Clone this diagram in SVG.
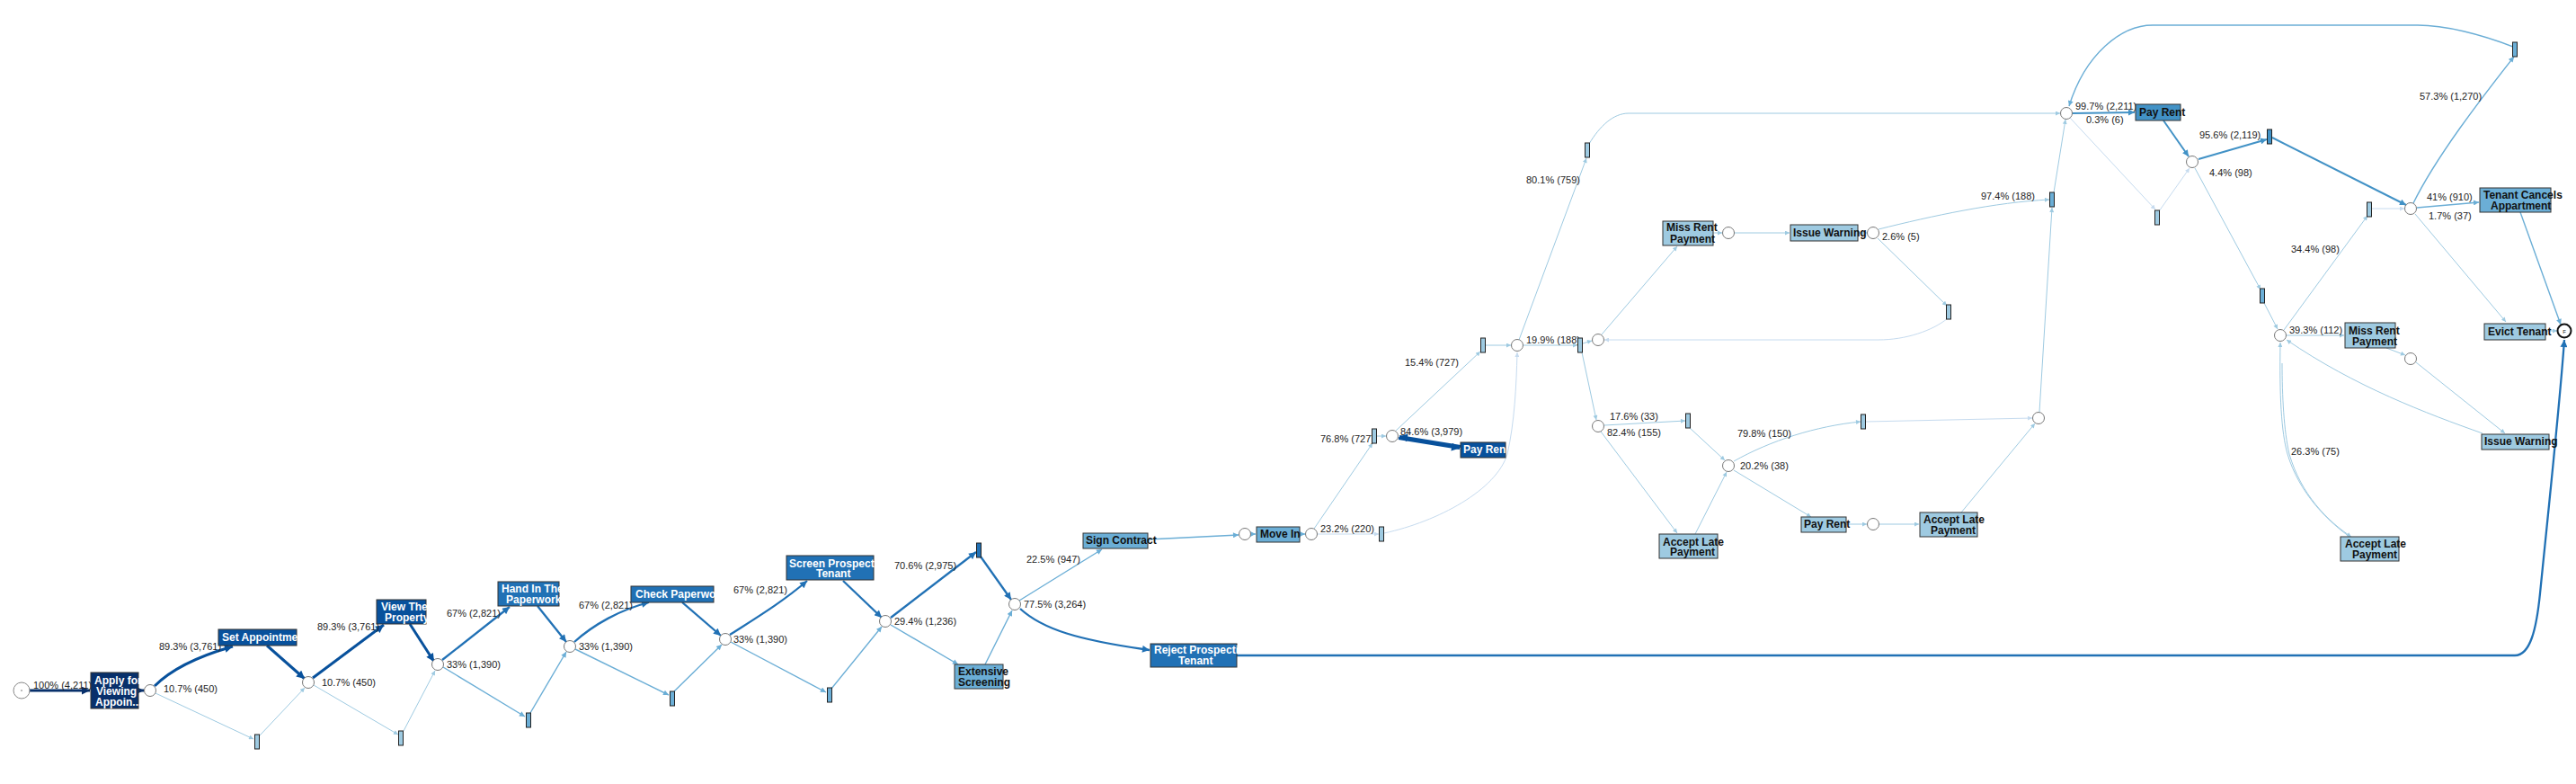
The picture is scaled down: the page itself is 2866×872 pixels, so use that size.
<svg xmlns="http://www.w3.org/2000/svg" width="2866" height="872" viewBox="0 0 2866 872">
<style>
.lbl{font-family:"Liberation Sans",Arial,sans-serif;font-size:11px;fill:#222}
.nt{font-family:"Liberation Sans",Arial,sans-serif;font-size:12px;font-weight:bold}
.w{fill:#fff}.k{fill:#111}
.gw{fill:#fff;stroke:#777;stroke-width:1}
.sr{stroke:#222;stroke-width:1}
.box{stroke:#333;stroke-width:1}
path{fill:none}
.e0{stroke:#08306b;stroke-width:3;marker-end:url(#a0)}
.e1{stroke:#08519c;stroke-width:3;marker-end:url(#a1)}
.e2{stroke:#2171b5;stroke-width:2.3;marker-end:url(#a2)}
.e3{stroke:#4292c6;stroke-width:2;marker-end:url(#a3)}
.e4{stroke:#6baed6;stroke-width:1.4;marker-end:url(#a4)}
.e5{stroke:#9ecae1;stroke-width:1;marker-end:url(#a5)}
.e6{stroke:#c6dbef;stroke-width:1;marker-end:url(#a6)}
</style>
<defs>
<marker id="a0" viewBox="0 0 10 10" refX="10" refY="5" markerUnits="userSpaceOnUse" markerWidth="10" markerHeight="9" orient="auto"><path d="M0,0L10,5L0,10z" style="fill:#08306b"/></marker>
<marker id="a1" viewBox="0 0 10 10" refX="10" refY="5" markerUnits="userSpaceOnUse" markerWidth="10" markerHeight="9" orient="auto"><path d="M0,0L10,5L0,10z" style="fill:#08519c"/></marker>
<marker id="a2" viewBox="0 0 10 10" refX="10" refY="5" markerUnits="userSpaceOnUse" markerWidth="9" markerHeight="8" orient="auto"><path d="M0,0L10,5L0,10z" style="fill:#2171b5"/></marker>
<marker id="a3" viewBox="0 0 10 10" refX="10" refY="5" markerUnits="userSpaceOnUse" markerWidth="8" markerHeight="7" orient="auto"><path d="M0,0L10,5L0,10z" style="fill:#4292c6"/></marker>
<marker id="a4" viewBox="0 0 10 10" refX="10" refY="5" markerUnits="userSpaceOnUse" markerWidth="7" markerHeight="6" orient="auto"><path d="M0,0L10,5L0,10z" style="fill:#6baed6"/></marker>
<marker id="a5" viewBox="0 0 10 10" refX="10" refY="5" markerUnits="userSpaceOnUse" markerWidth="6" markerHeight="5" orient="auto"><path d="M0,0L10,5L0,10z" style="fill:#9ecae1"/></marker>
<marker id="a6" viewBox="0 0 10 10" refX="10" refY="5" markerUnits="userSpaceOnUse" markerWidth="6" markerHeight="5" orient="auto"><path d="M0,0L10,5L0,10z" style="fill:#c6dbef"/></marker>
</defs>
<rect width="2866" height="872" fill="#fff"/>
<g id="connectors">
<path class="e0" d="M33 768L100 768"/>
<path class="e0" d="M154 768L160 768"/>
<path class="e1" d="M172 763C190 745,220 730,259 719"/>
<path class="e1" d="M297 718L339 755"/>
<path class="e5" d="M173 771L282 822"/>
<path class="e5" d="M289 818L339 765"/>
<path class="e1" d="M348 754L427 695"/>
<path class="e1" d="M456 694L483 736"/>
<path class="e5" d="M349 762L443 817"/>
<path class="e5" d="M449 813L484 746"/>
<path class="e2" d="M492 734L567 675"/>
<path class="e2" d="M598 674L630 714"/>
<path class="e4" d="M493 742L584 797"/>
<path class="e4" d="M590 793L630 725"/>
<path class="e2" d="M639 714C660 695,690 678,722 670"/>
<path class="e2" d="M759 670L802 707"/>
<path class="e4" d="M640 722L744 773"/>
<path class="e4" d="M750 769L803 717"/>
<path class="e2" d="M812 706C840 688,870 670,898 646"/>
<path class="e2" d="M938 646L981 687"/>
<path class="e4" d="M813 714L919 770"/>
<path class="e4" d="M925 766L981 697"/>
<path class="e2" d="M991 687L1086 614"/>
<path class="e2" d="M1091 619L1125 667"/>
<path class="e4" d="M991 695L1066 739"/>
<path class="e4" d="M1096 739L1126 679"/>
<path class="e4" d="M1134 668L1226 611"/>
<path class="e2" d="M1135 677C1160 700,1200 712,1279 723"/>
<path class="e2" d="M1376 729L2798 729C2815 729,2822 700,2826 660C2836 560,2848 450,2853 378"/>
<path class="e4" d="M1277 600L1378 595"/>
<path class="e4" d="M1391 594L1397 594"/>
<path class="e4" d="M1446 594L1452 594"/>
<path class="e6" d="M1466 594L1534 594"/>
<path class="e5" d="M1462 588L1527 493"/>
<path class="e5" d="M1532 485L1542 485"/>
<path class="e1" d="M1556 487.5L1624 498.5"/>
<path class="e1" d="M1625 496.5L1557 485.5"/>
<path class="e5" d="M1553 479L1647 391"/>
<path class="e6" d="M1540 593C1600 580,1665 545,1677 505C1685 470,1687 430,1688 392"/>
<path class="e5" d="M1653 384L1681 384"/>
<path class="e5" d="M1695 384L1755 384"/>
<path class="e5" d="M1761 382L1771 379"/>
<path class="e5" d="M1690 378L1765 176"/>
<path class="e5" d="M1768 160C1780 140,1795 126,1812 126L2292 126"/>
<path class="e5" d="M1760 392L1776 467"/>
<path class="e5" d="M1782 372L1866 274"/>
<path class="e5" d="M1906 259L1916 259"/>
<path class="e5" d="M1930 259L1991 259"/>
<path class="e5" d="M2067 259L2077 259"/>
<path class="e5" d="M2090 255C2150 240,2220 225,2280 222"/>
<path class="e5" d="M2089 265L2166 340"/>
<path class="e6" d="M2167 354C2150 368,2120 378,2090 378L1785 378"/>
<path class="e5" d="M1785 473L1875 468"/>
<path class="e5" d="M1781 480L1866 593"/>
<path class="e5" d="M1880 476L1919 512"/>
<path class="e5" d="M1886 594L1921 525"/>
<path class="e5" d="M1929 513C1970 490,2020 474,2070 469"/>
<path class="e5" d="M1929 523L2015 575"/>
<path class="e5" d="M2054 583L2077 583"/>
<path class="e5" d="M2091 583L2135 583"/>
<path class="e5" d="M2182 570L2264 471"/>
<path class="e6" d="M2076 469L2261 465"/>
<path class="e5" d="M2269 458L2283 231"/>
<path class="e5" d="M2285 214L2298 133"/>
<path class="e3" d="M2306 126L2375 125"/>
<path class="e6" d="M2303 131L2398 233"/>
<path class="e6" d="M2402 235L2436 187"/>
<path class="e3" d="M2407 134L2435 174"/>
<path class="e3" d="M2446 177L2522 155"/>
<path class="e3" d="M2528 153L2677 228"/>
<path class="e5" d="M2442 187L2515 322"/>
<path class="e5" d="M2519 337L2534 366"/>
<path class="e5" d="M2544 373L2608 373"/>
<path class="e5" d="M2541 367L2634 240"/>
<path class="e6" d="M2639 232L2675 232"/>
<path class="e4" d="M2689 231L2758 225"/>
<path class="e5" d="M2687 238L2788 358"/>
<path class="e4" d="M2685 226C2710 175,2760 110,2797 63"/>
<path class="e4" d="M2796 52C2760 38,2720 28,2690 28L2395 28C2360 28,2320 60,2302 118"/>
<path class="e5" d="M2655 387L2676 395"/>
<path class="e5" d="M2688 403L2787 482"/>
<path class="e5" d="M2762 482C2700 460,2620 430,2544 378"/>
<path class="e5" d="M2539 404C2539 440,2541 480,2547 505C2560 550,2590 580,2616 597"/>
<path class="e5" d="M2614 597C2588 578,2558 548,2545 505C2538 480,2536 440,2537 381"/>
<path class="e4" d="M2804 236L2849 361"/>
<path class="e5" d="M2832 368L2845 368"/>
<text class="lbl" x="37" y="766">100% (4,211)</text>
<text class="lbl" x="177" y="723">89.3% (3,761)</text>
<text class="lbl" x="182" y="770">10.7% (450)</text>
<text class="lbl" x="353" y="701">89.3% (3,761)</text>
<text class="lbl" x="358" y="763">10.7% (450)</text>
<text class="lbl" x="497" y="686">67% (2,821)</text>
<text class="lbl" x="497" y="743">33% (1,390)</text>
<text class="lbl" x="644" y="677">67% (2,821)</text>
<text class="lbl" x="644" y="723">33% (1,390)</text>
<text class="lbl" x="816" y="660">67% (2,821)</text>
<text class="lbl" x="816" y="715">33% (1,390)</text>
<text class="lbl" x="995" y="633">70.6% (2,975)</text>
<text class="lbl" x="995" y="695">29.4% (1,236)</text>
<text class="lbl" x="1139" y="676">77.5% (3,264)</text>
<text class="lbl" x="1142" y="626">22.5% (947)</text>
<text class="lbl" x="1469" y="592">23.2% (220)</text>
<text class="lbl" x="1469" y="492">76.8% (727)</text>
<text class="lbl" x="1558" y="484">84.6% (3,979)</text>
<text class="lbl" x="1563" y="407">15.4% (727)</text>
<text class="lbl" x="1698" y="204">80.1% (759)</text>
<text class="lbl" x="1698" y="382">19.9% (188)</text>
<text class="lbl" x="2094" y="267">2.6% (5)</text>
<text class="lbl" x="2204" y="222">97.4% (188)</text>
<text class="lbl" x="1791" y="467">17.6% (33)</text>
<text class="lbl" x="1788" y="485">82.4% (155)</text>
<text class="lbl" x="1933" y="486">79.8% (150)</text>
<text class="lbl" x="1936" y="522">20.2% (38)</text>
<text class="lbl" x="2309" y="122">99.7% (2,211)</text>
<text class="lbl" x="2321" y="137">0.3% (6)</text>
<text class="lbl" x="2447" y="154">95.6% (2,119)</text>
<text class="lbl" x="2458" y="196">4.4% (98)</text>
<text class="lbl" x="2692" y="111">57.3% (1,270)</text>
<text class="lbl" x="2700" y="223">41% (910)</text>
<text class="lbl" x="2702" y="244">1.7% (37)</text>
<text class="lbl" x="2549" y="281">34.4% (98)</text>
<text class="lbl" x="2547" y="371">39.3% (112)</text>
<text class="lbl" x="2549" y="506">26.3% (75)</text>
</g>
<g id="start"><circle cx="24" cy="768" r="9" fill="#fff" stroke="#888"/><circle cx="24" cy="768" r="0.8" fill="#666"/></g>
<g id="end"><circle cx="2853" cy="368" r="7.5" fill="#fff" stroke="#111" stroke-width="2"/><text x="2853" y="370.5" text-anchor="middle" style="font-family:'Liberation Sans',Arial,sans-serif;font-size:6px;fill:#111">F</text></g>
<g id="gateways">
<circle id="g1" class="gw" cx="167" cy="768" r="6.5"/>
<circle id="g2" class="gw" cx="343" cy="759" r="6.5"/>
<circle id="g3" class="gw" cx="487" cy="739" r="6.5"/>
<circle id="g4" class="gw" cx="634" cy="719" r="6.5"/>
<circle id="g5" class="gw" cx="807" cy="711" r="6.5"/>
<circle id="g6" class="gw" cx="985" cy="691" r="6.5"/>
<circle id="g7" class="gw" cx="1129" cy="672" r="6.5"/>
<circle id="g8" class="gw" cx="1385" cy="594" r="6.5"/>
<circle id="g9" class="gw" cx="1459" cy="594" r="6.5"/>
<circle id="g10" class="gw" cx="1549" cy="485" r="6.5"/>
<circle id="gA" class="gw" cx="1688" cy="384" r="6.5"/>
<circle id="gB" class="gw" cx="1778" cy="378" r="6.5"/>
<circle id="gC" class="gw" cx="1923" cy="259" r="6.5"/>
<circle id="gD" class="gw" cx="2084" cy="259" r="6.5"/>
<circle id="gE" class="gw" cx="2268" cy="465" r="6.5"/>
<circle id="gF" class="gw" cx="1778" cy="474" r="6.5"/>
<circle id="gG" class="gw" cx="1923" cy="518" r="6.5"/>
<circle id="gH" class="gw" cx="2084" cy="583" r="6.5"/>
<circle id="gX" class="gw" cx="2299" cy="126" r="6.5"/>
<circle id="gY" class="gw" cx="2439" cy="180" r="6.5"/>
<circle id="gZ" class="gw" cx="2537" cy="373" r="6.5"/>
<circle id="gW" class="gw" cx="2682" cy="399" r="6.5"/>
<circle id="gV" class="gw" cx="2682" cy="232" r="6.5"/>
</g>
<g id="skips">
<rect id="s1" class="sr" x="283.5" y="817" width="5" height="16" fill="#9ecae1"/>
<rect id="s2" class="sr" x="443.5" y="813" width="5" height="16" fill="#9ecae1"/>
<rect id="s3" class="sr" x="585.5" y="793" width="5" height="16" fill="#6baed6"/>
<rect id="s4" class="sr" x="745.5" y="769" width="5" height="16" fill="#6baed6"/>
<rect id="s5" class="sr" x="920.5" y="765" width="5" height="16" fill="#6baed6"/>
<rect id="s7" class="sr" x="1086.5" y="604" width="5" height="16" fill="#2171b5"/>
<rect id="s9" class="sr" x="1534.5" y="586" width="5" height="16" fill="#9ecae1"/>
<rect id="s10" class="sr" x="1526.5" y="477" width="5" height="16" fill="#9ecae1"/>
<rect id="sA" class="sr" x="1647.5" y="376" width="5" height="16" fill="#9ecae1"/>
<rect id="sB" class="sr" x="1755.5" y="376" width="5" height="16" fill="#9ecae1"/>
<rect id="sTop" class="sr" x="1763.5" y="159" width="5" height="16" fill="#9ecae1"/>
<rect id="sC" class="sr" x="2165.5" y="339" width="5" height="16" fill="#9ecae1"/>
<rect id="sD" class="sr" x="2280.5" y="214" width="5" height="16" fill="#6baed6"/>
<rect id="sE" class="sr" x="1875.5" y="460" width="5" height="16" fill="#9ecae1"/>
<rect id="sF" class="sr" x="2070.5" y="461" width="5" height="16" fill="#9ecae1"/>
<rect id="sG" class="sr" x="2397.5" y="234" width="5" height="16" fill="#9ecae1"/>
<rect id="sH" class="sr" x="2522.5" y="144" width="5" height="16" fill="#4292c6"/>
<rect id="sI" class="sr" x="2514.5" y="321" width="5" height="16" fill="#6baed6"/>
<rect id="sJ" class="sr" x="2633.5" y="225" width="5" height="16" fill="#9ecae1"/>
<rect id="sTR" class="sr" x="2795.5" y="47" width="5" height="16" fill="#6baed6"/>
</g>
<g id="apply"><rect class="box" x="101" y="748" width="53" height="40" fill="#08306b"/><text class="nt w" x="105" y="761">Apply for</text><text class="nt w" x="107" y="773">Viewing</text><text class="nt w" x="106" y="785">Appoin...</text></g>
<g id="setappt"><rect class="box" x="243" y="700" width="87" height="18" fill="#08519c"/><text class="nt w" x="247" y="713">Set Appointme</text></g>
<g id="view"><rect class="box" x="419" y="667" width="55" height="27" fill="#08519c"/><text class="nt w" x="424" y="679">View The</text><text class="nt w" x="428" y="691">Property</text></g>
<g id="handin"><rect class="box" x="554" y="647" width="68" height="27" fill="#2171b5"/><text class="nt w" x="558" y="659">Hand In The</text><text class="nt w" x="563" y="671">Paperwork</text></g>
<g id="check"><rect class="box" x="702" y="652" width="92" height="18" fill="#2171b5"/><text class="nt w" x="707" y="665">Check Paperwo</text></g>
<g id="screen"><rect class="box" x="875" y="618" width="97" height="27" fill="#2171b5"/><text class="nt w" x="878" y="631">Screen Prospect</text><text class="nt w" x="908" y="642">Tenant</text></g>
<g id="extensive"><rect class="box" x="1062" y="739" width="54" height="27" fill="#6baed6"/><text class="nt k" x="1066" y="751">Extensive</text><text class="nt k" x="1066" y="763">Screening</text></g>
<g id="sign"><rect class="box" x="1205" y="593" width="72" height="17" fill="#6baed6"/><text class="nt k" x="1208" y="605">Sign Contract</text></g>
<g id="reject"><rect class="box" x="1280" y="716" width="96" height="26" fill="#2171b5"/><text class="nt w" x="1284" y="727">Reject Prospecti</text><text class="nt w" x="1311" y="739">Tenant</text></g>
<g id="movein"><rect class="box" x="1398" y="586" width="48" height="17" fill="#6baed6"/><text class="nt k" x="1402" y="598">Move In</text></g>
<g id="payrent1"><rect class="box" x="1625" y="492" width="50" height="17" fill="#08519c"/><text class="nt w" x="1628" y="504">Pay Ren</text></g>
<g id="missrent1"><rect class="box" x="1850" y="246" width="56" height="27" fill="#9ecae1"/><text class="nt k" x="1854" y="257">Miss Rent</text><text class="nt k" x="1858" y="270">Payment</text></g>
<g id="issuewarning1"><rect class="box" x="1992" y="250" width="75" height="18" fill="#9ecae1"/><text class="nt k" x="1995" y="263">Issue Warning</text></g>
<g id="acceptlate1"><rect class="box" x="1846" y="594" width="65" height="27" fill="#9ecae1"/><text class="nt k" x="1850" y="607">Accept Late</text><text class="nt k" x="1858" y="618">Payment</text></g>
<g id="payrent2"><rect class="box" x="2004" y="575" width="50" height="17" fill="#9ecae1"/><text class="nt k" x="2007" y="587">Pay Rent</text></g>
<g id="acceptlate2"><rect class="box" x="2136" y="570" width="64" height="27" fill="#9ecae1"/><text class="nt k" x="2140" y="582">Accept Late</text><text class="nt k" x="2148" y="594">Payment</text></g>
<g id="payrent3"><rect class="box" x="2376" y="116" width="50" height="18" fill="#4292c6"/><text class="nt k" x="2380" y="129">Pay Rent</text></g>
<g id="missrent2"><rect class="box" x="2609" y="359" width="56" height="28" fill="#9ecae1"/><text class="nt k" x="2613" y="372">Miss Rent</text><text class="nt k" x="2617" y="384">Payment</text></g>
<g id="tenantcancels"><rect class="box" x="2759" y="209" width="79" height="27" fill="#6baed6"/><text class="nt k" x="2763" y="221">Tenant Cancels</text><text class="nt k" x="2771" y="233">Appartment</text></g>
<g id="evict"><rect class="box" x="2764" y="360" width="68" height="18" fill="#9ecae1"/><text class="nt k" x="2768" y="373">Evict Tenant</text></g>
<g id="issuewarning2"><rect class="box" x="2761" y="483" width="75" height="17" fill="#9ecae1"/><text class="nt k" x="2764" y="495">Issue Warning</text></g>
<g id="acceptlate3"><rect class="box" x="2604" y="597" width="65" height="27" fill="#9ecae1"/><text class="nt k" x="2609" y="609">Accept Late</text><text class="nt k" x="2617" y="621">Payment</text></g>
</svg>
